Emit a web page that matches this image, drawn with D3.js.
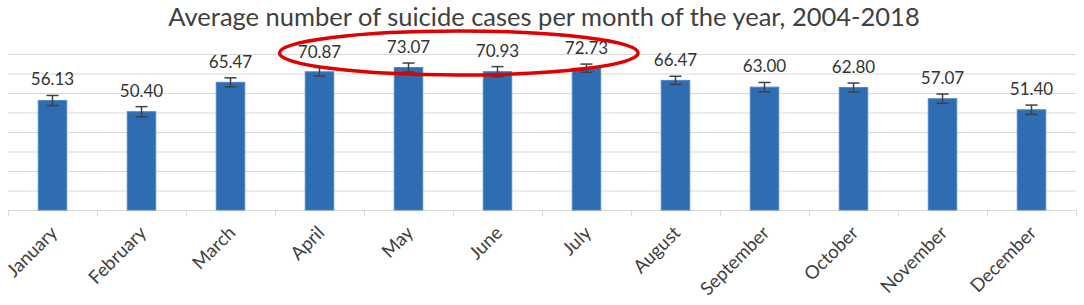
<!DOCTYPE html>
<html>
<head>
<meta charset="utf-8">
<script src="https://cdn.jsdelivr.net/npm/d3@7"></script>
<style>
  body { margin: 0; background: #fff; }
  svg { display: block; font-family: Lato, "Open Sans", sans-serif; }
</style>
</head>
<body>
<svg id="chart" width="1084" height="305"></svg>
<script>
const months = ["January", "February", "March", "April", "May", "June",
                "July", "August", "September", "October", "November", "December"];
const averages = [56.13, 50.40, 65.47, 70.87, 73.07, 70.93, 72.73, 66.47, 63.00, 62.80, 57.07, 51.40];
const errors = [2.6, 2.6, 2.3, 2.2, 2.3, 2.6, 2.1, 2.1, 2.4, 2.3, 2.4, 2.4];
const yTicks = [0, 10, 20, 30, 40, 50, 60, 70, 80];
const highlighted = ["April", "July"];
const title = "Average number of suicide cases per month of the year, 2004-2018";

const width = 1084, height = 305;
const margin = {top: 54, right: 8, bottom: 95, left: 8};

const svg = d3.select("#chart");

const x = d3.scaleBand()
    .domain(months)
    .range([margin.left, width - margin.right])
    .paddingInner(0.68)
    .paddingOuter(0.34);

const y = d3.scaleLinear()
    .domain([0, 80])
    .range([height - margin.bottom, margin.top]);

// gridlines
svg.append("g")
    .selectAll("line")
    .data(yTicks.slice(1))
    .join("line")
    .attr("x1", margin.left)
    .attr("x2", width - margin.right)
    .attr("y1", d => y(d) + 0.5)
    .attr("y2", d => y(d) + 0.5)
    .attr("stroke", "#d9d9d9")
    .attr("stroke-width", 1);

// category axis
const xAxis = svg.append("g")
    .attr("transform", `translate(0,${y(0)})`);

xAxis.append("line")
    .attr("x1", margin.left)
    .attr("x2", width - margin.right)
    .attr("y1", 0.5).attr("y2", 0.5)
    .attr("stroke", "#d9d9d9");

const step = x.step();
xAxis.selectAll(".tick")
    .data(d3.range(months.length + 1))
    .join("line")
    .attr("class", "tick")
    .attr("x1", i => Math.round(margin.left + i * step) + 0.5)
    .attr("x2", i => Math.round(margin.left + i * step) + 0.5)
    .attr("y1", 0).attr("y2", 6)
    .attr("stroke", "#d9d9d9");

xAxis.selectAll("text")
    .data(months)
    .join("text")
    .attr("transform", d => `translate(${x(d) + x.bandwidth() / 2 + 6},${24}) rotate(-45)`)
    .attr("text-anchor", "end")
    .attr("font-size", 18.5)
    .attr("fill", "#404040")
    .text(d => d);

// bars
svg.append("g")
    .selectAll("rect")
    .data(averages)
    .join("rect")
    .attr("x", (d, i) => x(months[i]))
    .attr("y", d => y(d))
    .attr("width", x.bandwidth())
    .attr("height", d => y(0) - y(d))
    .attr("fill", "#2f6db3")
    .attr("stroke", "#4f85c6")
    .attr("stroke-width", 1);

// error bars
const eb = svg.append("g")
    .attr("stroke", "#404040")
    .attr("stroke-width", 1.5);

averages.forEach((d, i) => {
    const cx = x(months[i]) + x.bandwidth() / 2;
    const lo = y(d - errors[i]), hi = y(d + errors[i]);
    eb.append("line").attr("x1", cx).attr("x2", cx).attr("y1", lo).attr("y2", hi);
    eb.append("line").attr("x1", cx - 6).attr("x2", cx + 6).attr("y1", lo).attr("y2", lo);
    eb.append("line").attr("x1", cx - 6).attr("x2", cx + 6).attr("y1", hi).attr("y2", hi);
});

// value labels
svg.append("g")
    .selectAll("text")
    .data(averages)
    .join("text")
    .attr("x", (d, i) => x(months[i]) + x.bandwidth() / 2)
    .attr("y", (d, i) => y(d + errors[i]) - 10)
    .attr("text-anchor", "middle")
    .attr("font-size", 17)
    .attr("fill", "#333")
    .text(d => d.toFixed(2));

// title
svg.append("text")
    .attr("x", width / 2 + 2)
    .attr("y", 26)
    .attr("text-anchor", "middle")
    .attr("font-size", 25.5)
    .attr("fill", "#404040")
    .text(title);

// highlight ellipse around the peak months
const left = x(highlighted[0]) - step * 0.29;
const right = x(highlighted[1]) + x.bandwidth() + step * 0.42;
svg.append("ellipse")
    .attr("cx", (left + right) / 2)
    .attr("cy", y(80) - 1)
    .attr("rx", (right - left) / 2)
    .attr("ry", 22)
    .attr("fill", "none")
    .attr("stroke", "#e00000")
    .attr("stroke-width", 3.5);
</script>
</body>
</html>
